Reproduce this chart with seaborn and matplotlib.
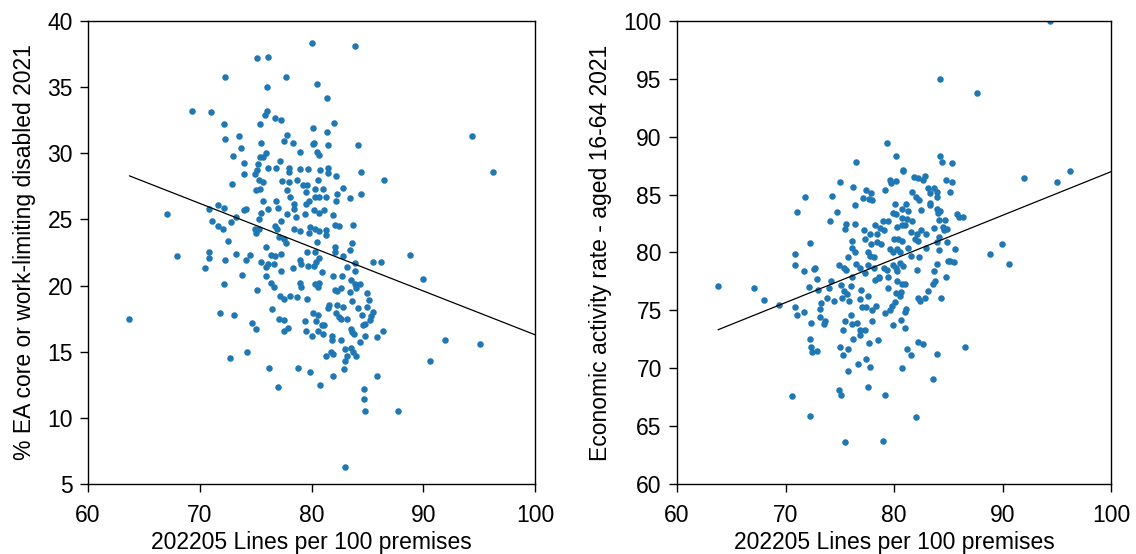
import numpy as np
import pandas as pd
import matplotlib
matplotlib.use("Agg")
import matplotlib.pyplot as plt
import seaborn as sns

# Left panel: lines per 100 premises vs % EA core or work-limiting disabled
left_x = [80.0, 83.9, 75.1, 76.1, 72.3, 77.7, 80.5, 76.0, 81.4, 69.3, 71.0, 76.0, 75.8, 76.7, 77.3,
          72.2, 75.4, 82.0, 80.1, 72.3, 73.5, 94.4, 77.8, 81.4, 73.7, 75.5, 77.5, 78.3, 80.1, 80.2,
          81.5, 84.2, 73.0, 75.9, 75.4, 75.7, 79.0, 80.5, 80.7, 74.0, 75.2, 77.2, 76.8, 76.1, 78.0,
          78.0, 79.0, 79.7, 80.8, 81.5, 81.5, 82.2, 84.4, 96.2, 86.5, 74.0, 74.9, 75.1, 75.3, 75.7,
          72.9, 77.4, 78.0, 78.7, 79.2, 79.6, 80.6, 75.0, 75.4, 77.8, 78.1, 79.5, 80.3, 81.0, 82.8,
          82.3, 84.4, 81.3, 80.3, 80.7, 83.4, 82.2, 75.7, 76.8, 78.4, 79.5, 79.8, 71.6, 72.2, 70.8,
          67.1, 74.0, 74.1, 75.5, 76.1, 77.0, 78.4, 80.2, 80.7, 81.1, 77.8, 78.6, 79.4, 81.9, 73.2,
          75.3, 72.8, 71.1, 71.6, 72.1, 77.3, 82.1, 82.5, 83.7, 74.9, 75.3, 75.0, 76.7, 76.9, 78.4,
          79.0, 79.8, 79.9, 80.3, 80.7, 81.3, 81.3, 77.1, 77.5, 77.7, 72.5, 75.9, 80.5, 82.1, 83.4,
          83.6, 79.6, 80.3, 70.8, 70.8, 68.0, 73.2, 74.5, 74.1, 72.3, 76.4, 76.7, 77.3, 79.0, 80.7,
          82.1, 82.8, 85.5, 86.2, 88.8, 70.5, 75.5, 76.1, 76.6, 75.9, 78.3, 79.1, 79.7, 80.2, 80.4,
          80.9, 77.3, 83.2, 83.9, 83.9, 73.8, 75.9, 81.9, 82.7, 90.0, 72.2, 76.4, 76.6, 79.0, 79.1,
          80.3, 80.6, 80.7, 83.5, 83.9, 84.3, 82.1, 82.3, 82.6, 84.0, 75.1, 83.4, 85.0, 77.2, 77.5,
          78.1, 78.7, 79.6, 83.6, 85.1, 81.6, 81.5, 82.3, 82.8, 84.2, 85.0, 85.5, 76.5, 71.8, 73.1,
          63.7, 80.1, 80.6, 82.2, 82.5, 84.5, 85.3, 77.1, 77.5, 79.4, 80.4, 82.6, 83.2, 85.2, 74.7,
          80.9, 81.1, 83.5, 84.6, 84.8, 75.0, 77.5, 77.9, 79.5, 80.6, 81.0, 83.6, 83.8, 84.8, 85.9,
          86.4, 80.0, 81.8, 81.8, 82.6, 91.9, 95.1, 84.3, 83.0, 81.7, 81.9, 83.5, 83.7, 84.0, 83.2,
          81.3, 74.2, 72.7, 83.0, 90.6, 76.2, 78.8, 79.9, 82.9, 81.9, 85.9, 80.8, 77.0, 84.7, 84.7,
          84.8, 87.7, 83.0]
left_y = [38.3, 38.1, 37.2, 37.3, 35.8, 35.8, 35.2, 35.0, 34.2, 33.2, 33.1, 33.2, 32.9, 32.7, 32.5,
          32.2, 32.2, 32.3, 31.9, 31.1, 31.3, 31.3, 31.4, 31.6, 30.4, 30.8, 30.9, 30.8, 30.7, 30.8,
          30.6, 30.6, 29.8, 30.0, 29.7, 29.7, 30.1, 30.1, 29.9, 29.3, 29.2, 29.4, 28.9, 28.9, 28.9,
          28.6, 28.8, 28.8, 28.7, 28.9, 28.5, 28.3, 28.6, 28.6, 28.0, 28.4, 28.4, 28.7, 28.0, 27.8,
          27.7, 27.9, 27.8, 28.0, 27.6, 27.6, 28.0, 27.2, 27.3, 27.2, 26.7, 27.1, 27.3, 27.3, 27.4,
          26.9, 26.9, 26.7, 26.7, 26.7, 26.6, 26.4, 26.4, 26.4, 26.2, 26.2, 26.4, 26.1, 25.9, 25.8,
          25.4, 25.7, 25.8, 25.5, 25.8, 25.9, 25.8, 25.7, 25.5, 25.7, 25.4, 25.2, 25.4, 25.3, 25.2,
          25.0, 24.8, 24.9, 24.5, 24.3, 24.9, 24.6, 24.5, 24.6, 24.3, 24.3, 24.0, 24.5, 24.3, 24.3,
          24.1, 24.0, 24.4, 24.3, 24.1, 24.2, 23.8, 23.7, 23.5, 23.2, 23.4, 22.9, 23.3, 22.9, 22.7,
          23.2, 22.5, 22.5, 22.5, 22.1, 22.2, 22.4, 22.3, 21.9, 21.9, 22.3, 22.2, 22.4, 21.9, 22.1,
          22.5, 22.2, 21.8, 21.8, 22.3, 21.3, 21.8, 21.6, 21.6, 21.4, 21.3, 21.6, 21.5, 21.5, 21.8,
          21.0, 21.1, 21.4, 21.7, 21.1, 20.8, 20.7, 20.7, 20.7, 20.5, 20.1, 20.2, 19.9, 20.2, 19.9,
          20.1, 19.9, 20.2, 20.4, 20.1, 20.1, 19.7, 19.6, 19.8, 19.8, 19.7, 19.5, 19.4, 19.2, 19.0,
          19.2, 19.1, 19.0, 18.8, 18.9, 18.5, 18.3, 18.5, 18.4, 18.3, 18.4, 18.0, 18.2, 17.9, 17.8,
          17.5, 17.9, 17.8, 17.9, 17.6, 17.8, 17.7, 17.5, 17.4, 17.3, 17.3, 17.5, 17.5, 17.4, 17.2,
          17.0, 17.0, 16.7, 17.0, 17.1, 16.7, 16.6, 16.8, 16.6, 16.6, 16.3, 16.5, 16.3, 16.2, 16.1,
          16.6, 16.2, 16.2, 15.9, 15.9, 15.9, 15.6, 15.7, 15.2, 15.0, 14.8, 15.3, 15.0, 14.7, 14.7,
          14.7, 15.0, 14.5, 14.3, 14.3, 13.8, 13.8, 13.5, 13.7, 13.2, 13.2, 12.5, 12.3, 12.2, 11.4,
          10.5, 10.5, 6.3]

# Right panel: lines per 100 premises vs economic activity rate (aged 16-64)
right_x = [94.35, 84.25, 87.66, 79.37, 80.17, 76.48, 84.25, 84.43, 85.30, 96.25, 91.96, 95.06, 80.84,
           80.87, 75.0, 76.24, 79.59, 79.74, 80.17, 81.86, 82.2, 82.84, 82.7, 84.77, 85.33, 71.79,
           74.27, 77.4, 77.9, 77.1, 77.7, 77.96, 79.19, 81.64, 82.0, 82.26, 83.17, 83.64, 83.27,
           83.94, 85.2, 83.33, 83.94, 71.08, 74.77, 76.42, 74.06, 75.6, 75.44, 76.42, 80.05, 80.78,
           81.12, 81.33, 79.9, 80.14, 82.47, 83.36, 83.94, 84.25, 84.04, 84.19, 84.74, 85.85, 85.97,
           86.4, 78.23, 78.73, 78.97, 79.46, 80.78, 81.21, 81.67, 80.26, 80.72, 81.0, 77.19, 77.74,
           78.42, 79.03, 81.55, 82.1, 82.47, 82.96, 83.7, 84.47, 84.62, 84.84, 72.22, 76.12, 77.35,
           77.87, 78.42, 78.79, 80.02, 80.41, 80.72, 81.95, 82.17, 83.94, 84.19, 84.87, 76.12, 76.36,
           77.59, 77.8, 78.11, 79.65, 79.9, 80.26, 80.57, 81.27, 81.55, 82.26, 82.96, 84.1, 85.6,
           89.99, 88.8, 90.6, 70.84, 70.9, 71.67, 72.59, 72.68, 72.92, 74.95, 75.35, 75.6, 75.72,
           76.52, 76.88, 77.56, 78.11, 79.09, 79.34, 79.86, 80.17, 80.57, 80.87, 80.26, 79.49, 78.66,
           78.27, 77.35, 76.12, 82.13, 83.64, 83.94, 84.93, 85.17, 85.57, 84.77, 63.78, 67.12, 68.01,
           69.39, 72.13, 73.02, 74.15, 74.0, 73.86, 74.43, 73.23, 73.2, 70.84, 71.05, 71.67, 72.34,
           73.6, 73.54, 73.14, 75.14, 75.35, 75.66, 75.17, 76.0, 75.81, 77.0, 76.88, 77.59, 77.04,
           77.4, 78.33, 78.0, 78.57, 79.49, 80.26, 80.78, 81.0, 80.2, 80.66, 80.51, 80.11, 79.8,
           79.65, 79.13, 81.0, 81.12, 80.6, 81.0, 79.9, 82.2, 82.4, 82.9, 83.1, 83.6, 83.8, 84.3,
           76.06, 76.12, 76.58, 75.44, 75.29, 76.82, 76.88, 77.35, 77.99, 76.21, 77.71, 78.48, 72.22,
           72.31, 72.4, 72.9, 74.98, 75.29, 75.78, 76.64, 77.4, 77.77, 75.78, 80.75, 81.15, 81.55,
           82.2, 82.66, 83.94, 86.5, 83.6, 77.59, 74.89, 75.07, 79.19, 70.6, 72.28, 82.04, 75.44,
           78.97]
right_y = [100.0, 95.0, 93.8, 89.5, 88.3, 87.8, 88.3, 87.8, 87.7, 87.0, 86.4, 86.1, 87.1, 87.0, 86.1,
           85.7, 86.3, 86.0, 86.2, 86.5, 86.4, 86.6, 86.3, 86.3, 86.1, 84.8, 84.9, 85.4, 85.1, 84.7,
           84.6, 84.5, 85.4, 85.2, 84.8, 84.5, 85.6, 85.6, 85.1, 85.2, 85.2, 84.3, 84.8, 83.5, 83.5,
           84.1, 82.7, 82.5, 82.0, 82.5, 84.2, 83.8, 84.2, 83.6, 83.4, 83.3, 83.7, 84.1, 83.8, 83.6,
           83.4, 82.8, 82.8, 83.3, 83.1, 83.1, 82.4, 82.1, 82.7, 82.7, 83.0, 82.9, 82.7, 82.2, 82.4,
           82.4, 81.9, 81.6, 81.6, 81.9, 81.8, 81.6, 81.9, 81.6, 82.1, 82.2, 81.9, 82.0, 80.8, 81.0,
           81.2, 80.7, 80.9, 80.7, 81.2, 81.2, 81.0, 81.2, 81.0, 80.9, 81.3, 80.9, 80.4, 80.0, 80.0,
           79.7, 79.6, 80.3, 80.0, 80.3, 80.0, 80.4, 79.7, 79.6, 80.4, 80.2, 80.3, 80.7, 79.9, 79.0,
           79.9, 78.9, 78.4, 78.6, 78.7, 77.7, 78.9, 78.7, 78.5, 79.6, 79.0, 78.7, 78.9, 78.7, 78.7,
           78.5, 78.9, 78.7, 79.1, 78.8, 78.4, 77.9, 77.9, 77.6, 78.2, 77.9, 78.5, 78.4, 79.0, 79.3,
           79.3, 79.2, 77.9, 77.1, 76.9, 75.9, 75.5, 77.0, 76.8, 77.5, 76.9, 76.1, 75.8, 75.6, 75.1,
           75.3, 74.6, 74.9, 73.9, 74.1, 73.8, 74.4, 77.2, 76.7, 76.4, 76.1, 77.1, 75.8, 76.8, 76.0,
           76.2, 75.3, 75.3, 75.4, 75.0, 77.8, 76.9, 77.5, 77.3, 77.3, 76.5, 76.6, 76.2, 75.7, 75.4,
           75.0, 74.8, 74.9, 75.1, 74.2, 73.5, 73.7, 76.1, 75.8, 76.1, 76.7, 77.3, 77.5, 76.1, 74.6,
           73.8, 73.9, 74.1, 73.3, 73.3, 72.9, 73.3, 74.1, 72.5, 72.2, 72.4, 72.5, 71.8, 71.4, 71.5,
           71.8, 71.1, 71.7, 70.4, 70.8, 70.1, 69.8, 70.0, 71.7, 71.1, 72.3, 72.1, 71.2, 71.8, 69.1,
           68.4, 68.1, 67.7, 67.7, 67.6, 65.9, 65.8, 63.6, 63.7]

# Linear trend lines: (slope, intercept)
left_trend = (-0.331, 49.38)
right_trend = (0.377, 49.28)

x_label = "202205 Lines per 100 premises"
left_ylabel = "% EA core or work-limiting disabled 2021"
right_ylabel = "Economic activity rate - aged 16-64 2021"
x_ticks = [60, 70, 80, 90, 100]
left_yticks = [5, 10, 15, 20, 25, 30, 35, 40]
right_yticks = [60, 65, 70, 75, 80, 85, 90, 95, 100]

sns.set_style("ticks")
plt.rcParams['font.family'] = ['Liberation Sans', 'DejaVu Sans']
for k in ["text.color", "axes.labelcolor", "xtick.color", "ytick.color", "axes.edgecolor"]:
    plt.rcParams[k] = "black"

fig = plt.figure(figsize=(11.36, 5.54), dpi=100)
ax1 = fig.add_axes([0.0775, 0.1264, 0.3935, 0.8357])
ax2 = fig.add_axes([0.596, 0.1264, 0.382, 0.8357])

color = "#1f77b4"
FS = 16.5
panels = [
    (ax1, left_x, left_y, left_trend, left_ylabel, left_yticks, (5, 40)),
    (ax2, right_x, right_y, right_trend, right_ylabel, right_yticks, (60, 100)),
]
for ax, xs, ys, trend, ylab, yt, ylim in panels:
    df = pd.DataFrame({"x": xs, "y": ys})
    sns.scatterplot(data=df, x="x", y="y", ax=ax, color=color, s=22,
                    linewidth=0)
    slope, intercept = trend
    lx = np.array([df["x"].min(), 100])
    ax.plot(lx, slope * lx + intercept, color="black", linewidth=0.9)
    ax.set_xlim(60, 100)
    ax.set_ylim(*ylim)
    ax.set_xticks(x_ticks)
    ax.set_yticks(yt)
    ax.set_xlabel(x_label, fontsize=FS, labelpad=3)
    ax.set_ylabel(ylab, fontsize=FS, labelpad=8)
    ax.tick_params(labelsize=FS, length=5.5, width=1, color="black", pad=5.5)
    ax.tick_params(axis="x", pad=9)
    for sp in ax.spines.values():
        sp.set_visible(True)
        sp.set_color("black")
        sp.set_linewidth(1.0)

fig.savefig("out.png", dpi=100)
